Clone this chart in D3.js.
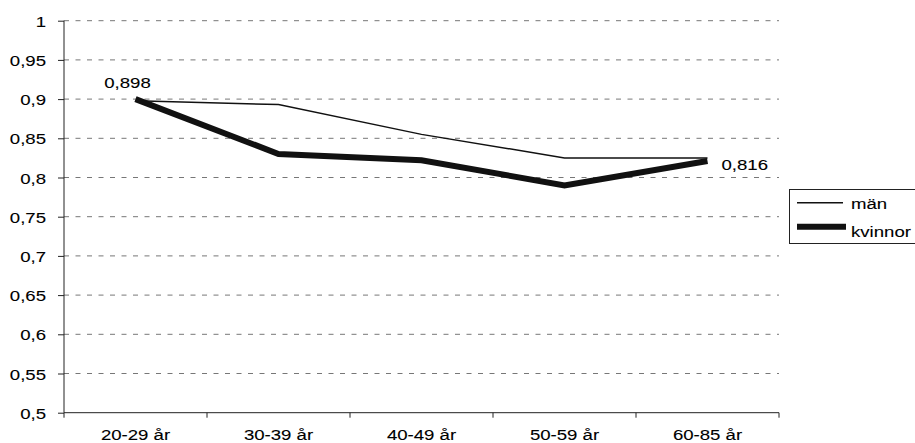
<!DOCTYPE html>
<html><head><meta charset="utf-8">
<script src="https://cdn.jsdelivr.net/npm/d3@7"></script>
<style>
body{margin:0;background:#fff;}
svg{display:block;font-family:"Liberation Sans",Arial,sans-serif;}
svg text{stroke:#000;stroke-width:0.1px;}
</style></head>
<body><svg id="c" width="915" height="443"></svg>
<script>
const categories = ["20-29 år","30-39 år","40-49 år","50-59 år","60-85 år"];
const man = [0.898, 0.893, 0.855, 0.825, 0.825];
const kvinnor = [0.900, 0.830, 0.822, 0.790, 0.821];
const yTicks = [0.5,0.55,0.6,0.65,0.7,0.75,0.8,0.85,0.9,0.95,1];
const seriesNames = ["män","kvinnor"];
const pointLabels = [{i:0, text:"0,898"}, {i:4, text:"0,816"}];

(function(){
const SX = 1.2, FS = 15.5;
const svg = d3.select("#c");
const pl = 64, pr = 779, pt = 20.7, pb = 412.7;
const x = d3.scaleBand().domain(categories).range([pl,pr]);
const y = d3.scaleLinear().domain([0.5,1]).range([pb,pt]);
const fmt = v => String(+v.toFixed(3)).replace(".", ",");

// grid
svg.append("g").selectAll("line").data(yTicks.filter(v=>v>0.5)).join("line")
  .attr("x1",pl).attr("x2",pr).attr("y1",d=>y(d)).attr("y2",d=>y(d))
  .attr("stroke","#777").attr("stroke-width",1).attr("stroke-dasharray","5,6.5");

// y axis
const gy = svg.append("g").attr("transform",`translate(${pl},0)`)
  .call(d3.axisLeft(y).tickValues(yTicks).tickSize(6).tickPadding(0).tickFormat(fmt));
gy.select(".domain").attr("stroke","#222").attr("d",`M0,${pt}V${pb}`);
gy.selectAll(".tick line").attr("stroke","#222");
gy.selectAll(".tick text").attr("x",null).attr("dy","0.36em")
  .attr("transform",`translate(-18,0) scale(${SX},1)`)
  .attr("font-size",FS).attr("font-family","Liberation Sans, Arial, sans-serif").attr("fill","#000");

// x axis
const gx = svg.append("g").attr("transform",`translate(0,${pb})`)
  .call(d3.axisBottom(x).tickSize(0).tickPadding(0));
gx.select(".domain").attr("stroke","#222").attr("d",`M${pl},0H${pr}`);
gx.selectAll(".tick text").attr("y",27.5).attr("dy",null)
  .attr("transform",`scale(${SX},1)`)
  .attr("font-size",FS).attr("font-family","Liberation Sans, Arial, sans-serif").attr("fill","#000");
const bounds = d3.range(categories.length+1).map(i => pl + i*x.step());
gx.append("g").selectAll("line").data(bounds).join("line")
  .attr("x1",d=>d).attr("x2",d=>d).attr("y1",0).attr("y2",5).attr("stroke","#222");

// lines
const line = d3.line().x((d,i)=>x(categories[i])+x.bandwidth()/2).y(d=>y(d));
svg.append("path").datum(man).attr("d",line).attr("fill","none")
  .attr("stroke","#111").attr("stroke-width",1.5).attr("stroke-linejoin","miter");
svg.append("path").datum(kvinnor).attr("d",line).attr("fill","none")
  .attr("stroke","#111").attr("stroke-width",6).attr("stroke-linejoin","miter");

// data labels
pointLabels.forEach(p => {
  const px = x(categories[p.i]) + x.bandwidth()/2, py = y(kvinnor[p.i]);
  const t = svg.append("text").attr("font-size",FS).attr("fill","#000");
  if (p.i === 0) {
    t.attr("text-anchor","middle").attr("transform",`translate(${px-8},${py-11.5}) scale(${SX},1)`);
  } else {
    t.attr("text-anchor","start").attr("transform",`translate(${px+14},${py+8.5}) scale(${SX},1)`);
  }
  t.text(p.text);
});

// legend
const lg = svg.append("g");
lg.append("rect").attr("x",789.5).attr("y",189.5).attr("width",140).attr("height",54)
  .attr("fill","#fff").attr("stroke","#222").attr("stroke-width",1);
const legW = [1.5, 6], legY = [202.7, 226.7], legTY = [209, 236.5];
seriesNames.forEach((n,i) => {
  lg.append("line").attr("x1",797).attr("x2",i?846:843).attr("y1",legY[i]).attr("y2",legY[i])
    .attr("stroke","#111").attr("stroke-width",legW[i]);
  lg.append("text").attr("transform",`translate(851,${legTY[i]}) scale(${SX},1)`)
    .attr("font-size",FS).attr("fill","#000").text(n);
});
})();
</script></body></html>
